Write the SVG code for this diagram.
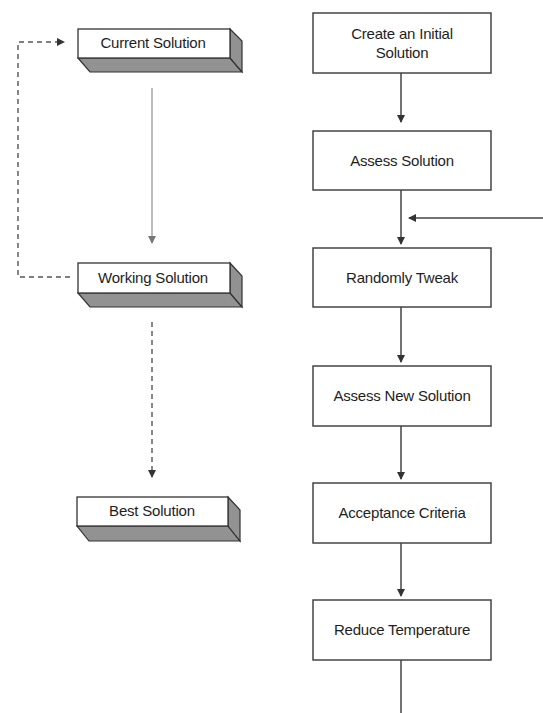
<svg xmlns="http://www.w3.org/2000/svg" width="543" height="713" viewBox="0 0 543 713">
<defs>
<style>
.box{fill:#fff;stroke:#444;stroke-width:1.5}
.front{fill:#fff;stroke:#333;stroke-width:1.3}
.side{fill:#929292;stroke:#333;stroke-width:1.2}
.t{font-family:"Liberation Sans",Arial,sans-serif;font-size:15px;fill:#1e1e1e;text-anchor:middle;letter-spacing:-0.2px}
.ln{stroke:#444;stroke-width:1.5;fill:none}
.lt{stroke:#999;stroke-width:1.3;fill:none}
.ds{stroke:#555;stroke-width:1.4;fill:none;stroke-dasharray:5,4}
</style>
<marker id="ah" markerWidth="8" markerHeight="8" refX="7" refY="4" orient="auto" markerUnits="userSpaceOnUse">
<path d="M0,0 L8,4 L0,8 Z" fill="#333"/>
</marker>
<marker id="ahl" markerWidth="8" markerHeight="8" refX="7" refY="4" orient="auto" markerUnits="userSpaceOnUse">
<path d="M0,0 L8,4 L0,8 Z" fill="#777"/>
</marker>
</defs>
<rect width="543" height="713" fill="#fff"/>
<g id="connectors">
<line class="ln" x1="401" y1="73" x2="401" y2="122" marker-end="url(#ah)"/>
<line class="ln" x1="401" y1="190" x2="401" y2="244" marker-end="url(#ah)"/>
<line class="ln" x1="543" y1="218" x2="409" y2="218" marker-end="url(#ah)"/>
<line class="ln" x1="401" y1="307" x2="401" y2="362" marker-end="url(#ah)"/>
<line class="ln" x1="401" y1="426" x2="401" y2="479" marker-end="url(#ah)"/>
<line class="ln" x1="401" y1="543" x2="401" y2="596" marker-end="url(#ah)"/>
<line class="ln" x1="401" y1="660" x2="401" y2="713"/>
<line class="lt" x1="152" y1="88" x2="152" y2="243" marker-end="url(#ahl)"/>
<polyline class="ds" points="70,277 18,277 18,42 64,42" marker-end="url(#ah)"/>
<line class="ds" x1="152" y1="322" x2="152" y2="477" marker-end="url(#ah)"/>
</g>
<g id="n-create"><rect class="box" x="313" y="13" width="178" height="60"/><text class="t" x="402" y="39">Create an Initial</text><text class="t" x="402" y="58">Solution</text></g>
<g id="n-assess"><rect class="box" x="313" y="131" width="178" height="59"/><text class="t" x="402" y="166">Assess Solution</text></g>
<g id="n-tweak"><rect class="box" x="313" y="248" width="178" height="59"/><text class="t" x="402" y="283">Randomly Tweak</text></g>
<g id="n-assessnew"><rect class="box" x="313" y="366" width="178" height="60"/><text class="t" x="402" y="401">Assess New Solution</text></g>
<g id="n-accept"><rect class="box" x="313" y="483" width="178" height="60"/><text class="t" x="402" y="518">Acceptance Criteria</text></g>
<g id="n-reduce"><rect class="box" x="313" y="600" width="178" height="60"/><text class="t" x="402" y="635">Reduce Temperature</text></g>
<g id="n-current">
<polygon class="side" points="78,58 230,58 242,72 90,72"/>
<polygon class="side" points="230,29 242,41 242,72 230,58"/>
<rect class="front" x="78" y="29" width="152" height="29"/>
<text class="t" x="153" y="48">Current Solution</text>
</g>
<g id="n-working">
<polygon class="side" points="78,293 230,293 242,307 90,307"/>
<polygon class="side" points="230,263 242,276 242,307 230,293"/>
<rect class="front" x="78" y="263" width="152" height="30"/>
<text class="t" x="153" y="283">Working Solution</text>
</g>
<g id="n-best">
<polygon class="side" points="77,526 228,526 240,541 89,541"/>
<polygon class="side" points="228,497 240,510 240,541 228,526"/>
<rect class="front" x="77" y="497" width="151" height="29"/>
<text class="t" x="152" y="516">Best Solution</text>
</g>
</svg>
